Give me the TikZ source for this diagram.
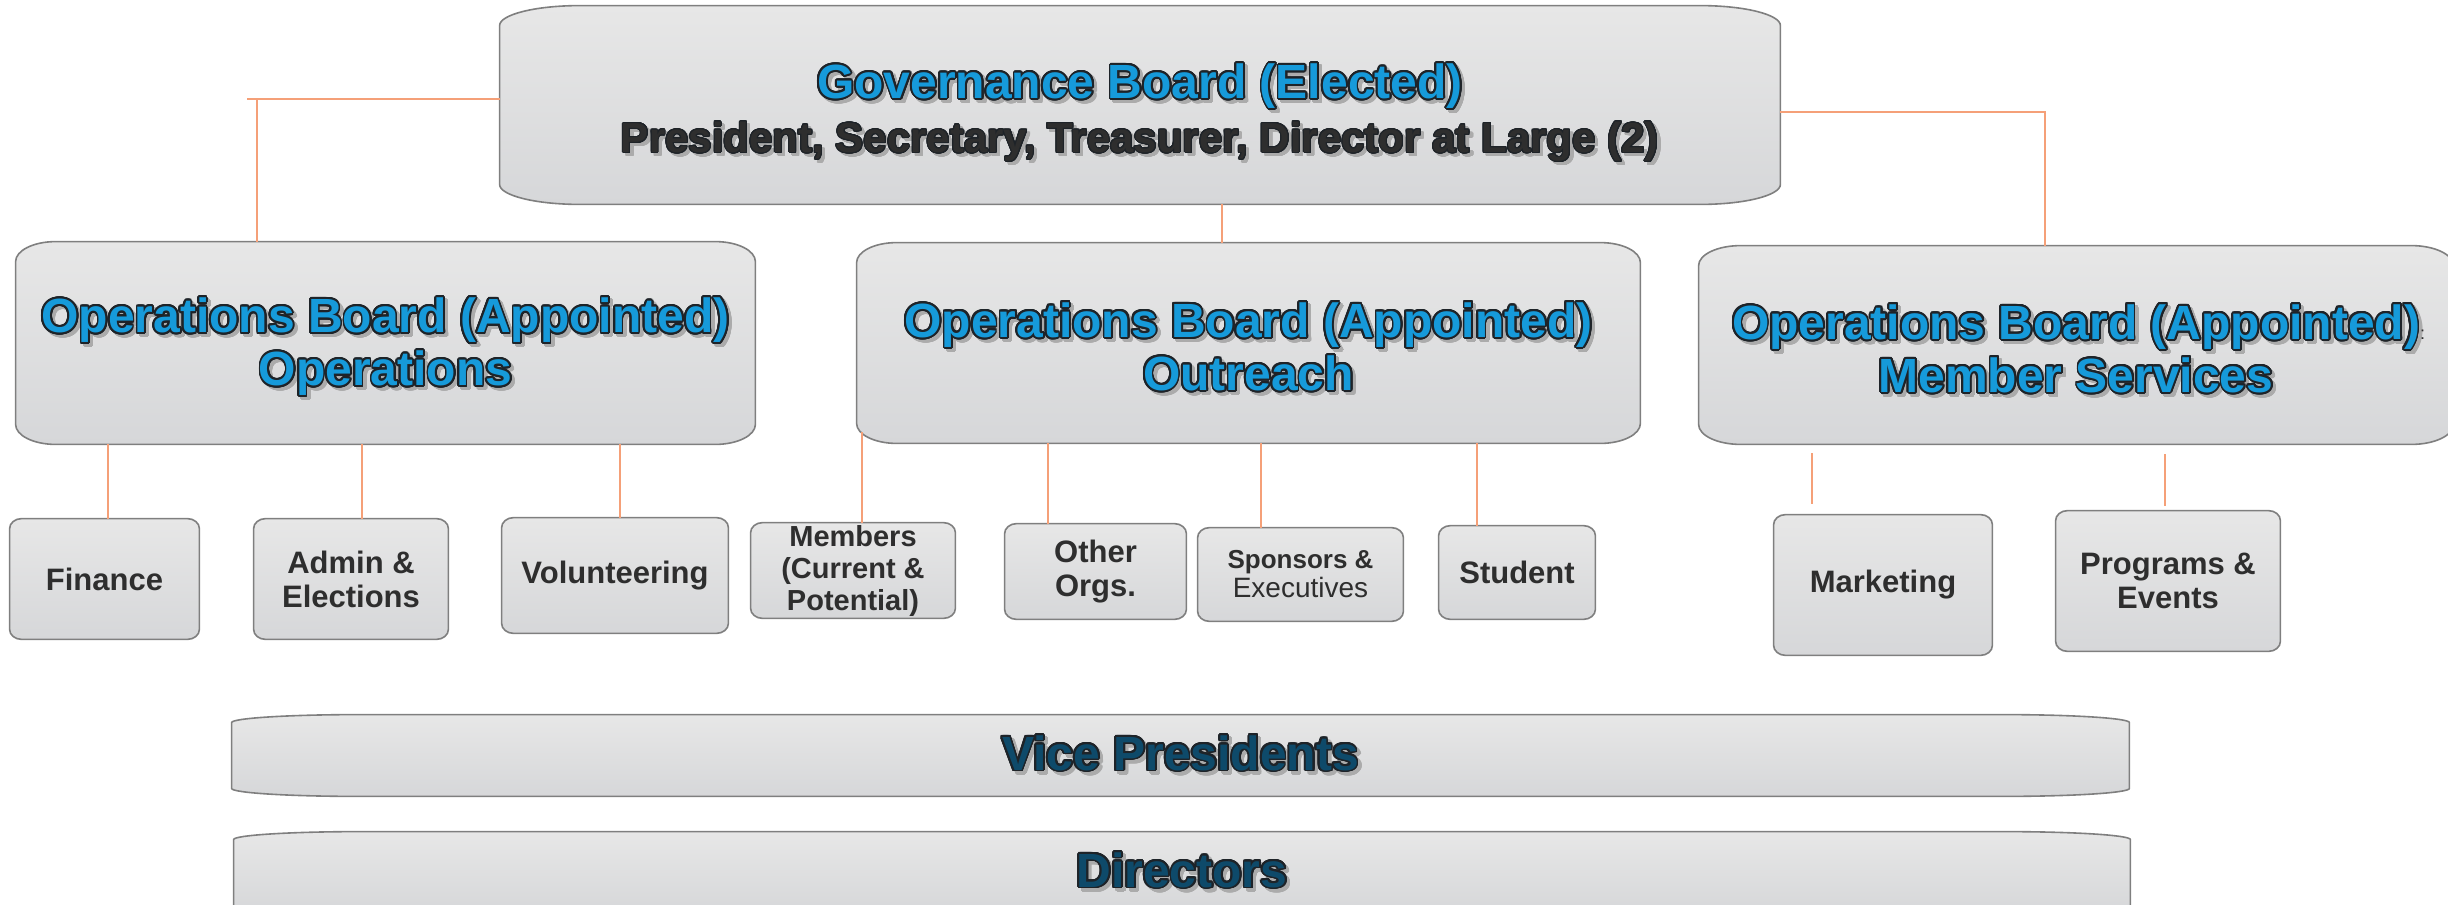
\documentclass[tikz,border=0pt]{standalone}
\usepackage{fontspec}
\setmainfont{Liberation Sans}
\usepackage[copies]{contour}
\usetikzlibrary{calc,backgrounds}

\definecolor{headblue}{HTML}{169ADA}
\definecolor{vpblue}{HTML}{0E4A6A}
\definecolor{textedge}{HTML}{1E2328}
\definecolor{darktext}{HTML}{2E2E2E}
\definecolor{shadowgray}{HTML}{ABABAB}
\definecolor{linkorange}{HTML}{F5A078}
\definecolor{boxtop}{HTML}{E7E7E7}
\definecolor{boxbot}{HTML}{D6D7D9}
\definecolor{boxline}{HTML}{7F7F7F}

\contourlength{0.9pt}
\contournumber{24}

% outlined text with a soft drop shadow
\newcommand{\glow}[2]{\rlap{\hspace{1.6pt}\raisebox{-1.6pt}{\textcolor{shadowgray}{\contour{shadowgray}{#2}}}}\textcolor{#1}{\contour{textedge}{#2}}}

\begin{document}
\begin{tikzpicture}[x=0.5pt, y=-0.5pt,
  panel/.style={top color=boxtop, bottom color=boxbot, draw=boxline, line width=0.8pt},
  link/.style={draw=linkorange, line width=1pt},
  slot/.style 2 args={inner sep=0pt, align=center, minimum width=#1*0.5pt, minimum height=#2*0.5pt},
  head/.style={font=\fontsize{24}{26.5}\selectfont\bfseries},
  leaf/.style={font=\fontsize{15.5}{17}\selectfont\bfseries, text=darktext}]

\useasboundingbox (0,0) rectangle (2448,905);

% Boards
\node[slot={1280}{198}, font=\fontsize{24}{27}\selectfont\bfseries] (gov) at (1140,105)
  {\rule{0pt}{26.9pt}\glow{headblue}{Governance Board (Elected)}\\ \fontsize{21}{27}\selectfont{\contourlength{0.5pt}\glow{darktext}{President, Secretary, Treasurer, Director at Large (2)}}};
\node[slot={739}{202}, head] (opsA) at (385.5,343) {\rule{0pt}{23.5pt}\glow{headblue}{Operations Board (Appointed)}\\ \glow{headblue}{Operations}};
\node[slot={783}{200}, head] (opsB) at (1248.5,343) {\rule{0pt}{23.5pt}\glow{headblue}{Operations Board (Appointed)}\\ \glow{headblue}{Outreach}};
\node[slot={754}{198}, head] (opsC) at (2076,345) {\rule{0pt}{23.5pt}\glow{headblue}{Operations Board (Appointed)}\rlap{\fontsize{9}{9}\selectfont\mdseries\textcolor{darktext}{:}}\\ \glow{headblue}{Member Services}};

% Teams
\node[slot={189}{120}, leaf] (fin) at (104.5,579) {Finance};
\node[slot={194}{120}, leaf] (admin) at (351,579) {Admin \&\\Elections};
\node[slot={226}{115}, leaf] (vol) at (615,575.5) {Volunteering};
\node[slot={204}{95}, leaf, font=\fontsize{14.5}{16}\selectfont\bfseries] (mem) at (853,570.5) {Members\\(Current \&\\Potential)};
\node[slot={181}{95}, leaf] (orgs) at (1095.5,571.5) {Other\\Orgs.};
\node[slot={205}{93}, leaf, font=\fontsize{13}{14.5}\selectfont\bfseries] (spons) at (1300.5,574.5) {Sponsors \&\\{\mdseries\fontsize{14}{14.5}\selectfont Executives}};
\node[slot={156}{93}, leaf] (stud) at (1517,572.5) {Student};
\node[slot={218}{140}, leaf] (mkt) at (1883,585) {Marketing};
\node[slot={224}{140}, leaf] (prog) at (2168,581) {Programs \&\\Events};

% Bars
\node[slot={1897}{81}, head] (vp) at (1180.5,755.5) {\glow{vpblue}{Vice Presidents}};
\node[slot={1896}{81}, head] (dir) at (1182,872.5) {\glow{vpblue}{Directors}};

% Links from the governance board
\coordinate (gL) at (257,99);
\coordinate (gR) at (2045,112);
\draw[link] (gov.west |- gL) -- (247,99);
\draw[link] (gL) -- (gL |- opsA.north);
\draw[link] (gov.east |- gR) -- (gR) -- (gR |- opsC.north);
\draw[link] (1222,0 |- gov.south) -- (1222,0 |- opsB.north);

% Links to the teams
\foreach \x/\n in {108/fin, 362/admin, 620/vol}
  \draw[link] (\x,0 |- opsA.south) -- (\x,0 |- \n.north);
\draw[link, shorten <=-5.5pt] (862,0 |- opsB.south) -- (862,0 |- mem.north);
\foreach \x/\n in {1048/orgs, 1261/spons, 1477/stud}
  \draw[link] (\x,0 |- opsB.south) -- (\x,0 |- \n.north);
\draw[link, shorten <=4.5pt, shorten >=5.5pt] (1812,0 |- opsC.south) -- (1812,0 |- mkt.north);
\draw[link, shorten <=5pt, shorten >=2.5pt] (2165,0 |- opsC.south) -- (2165,0 |- prog.north);

% Box outlines with oval corners
\begin{pgfonlayer}{background}
\foreach \n/\rx/\ry in {gov/80/20, opsA/40/20, opsB/40/20, opsC/42/20,
    fin/12/10, admin/12/10, vol/12/10, mem/12/10, orgs/12/10, spons/12/10,
    stud/12/10, mkt/12/10, prog/12/10, vp/127/8, dir/127/8}
  \path[panel] ($(\n.north west)+(\rx,0)$) -- ($(\n.north east)+(-\rx,0)$)
    arc[start angle=-90, end angle=0, x radius=\rx, y radius=\ry]
    -- ($(\n.south east)+(0,-\ry)$)
    arc[start angle=0, end angle=90, x radius=\rx, y radius=\ry]
    -- ($(\n.south west)+(\rx,0)$)
    arc[start angle=90, end angle=180, x radius=\rx, y radius=\ry]
    -- ($(\n.north west)+(0,\ry)$)
    arc[start angle=180, end angle=270, x radius=\rx, y radius=\ry] -- cycle;
\end{pgfonlayer}

\end{tikzpicture}
\end{document}
